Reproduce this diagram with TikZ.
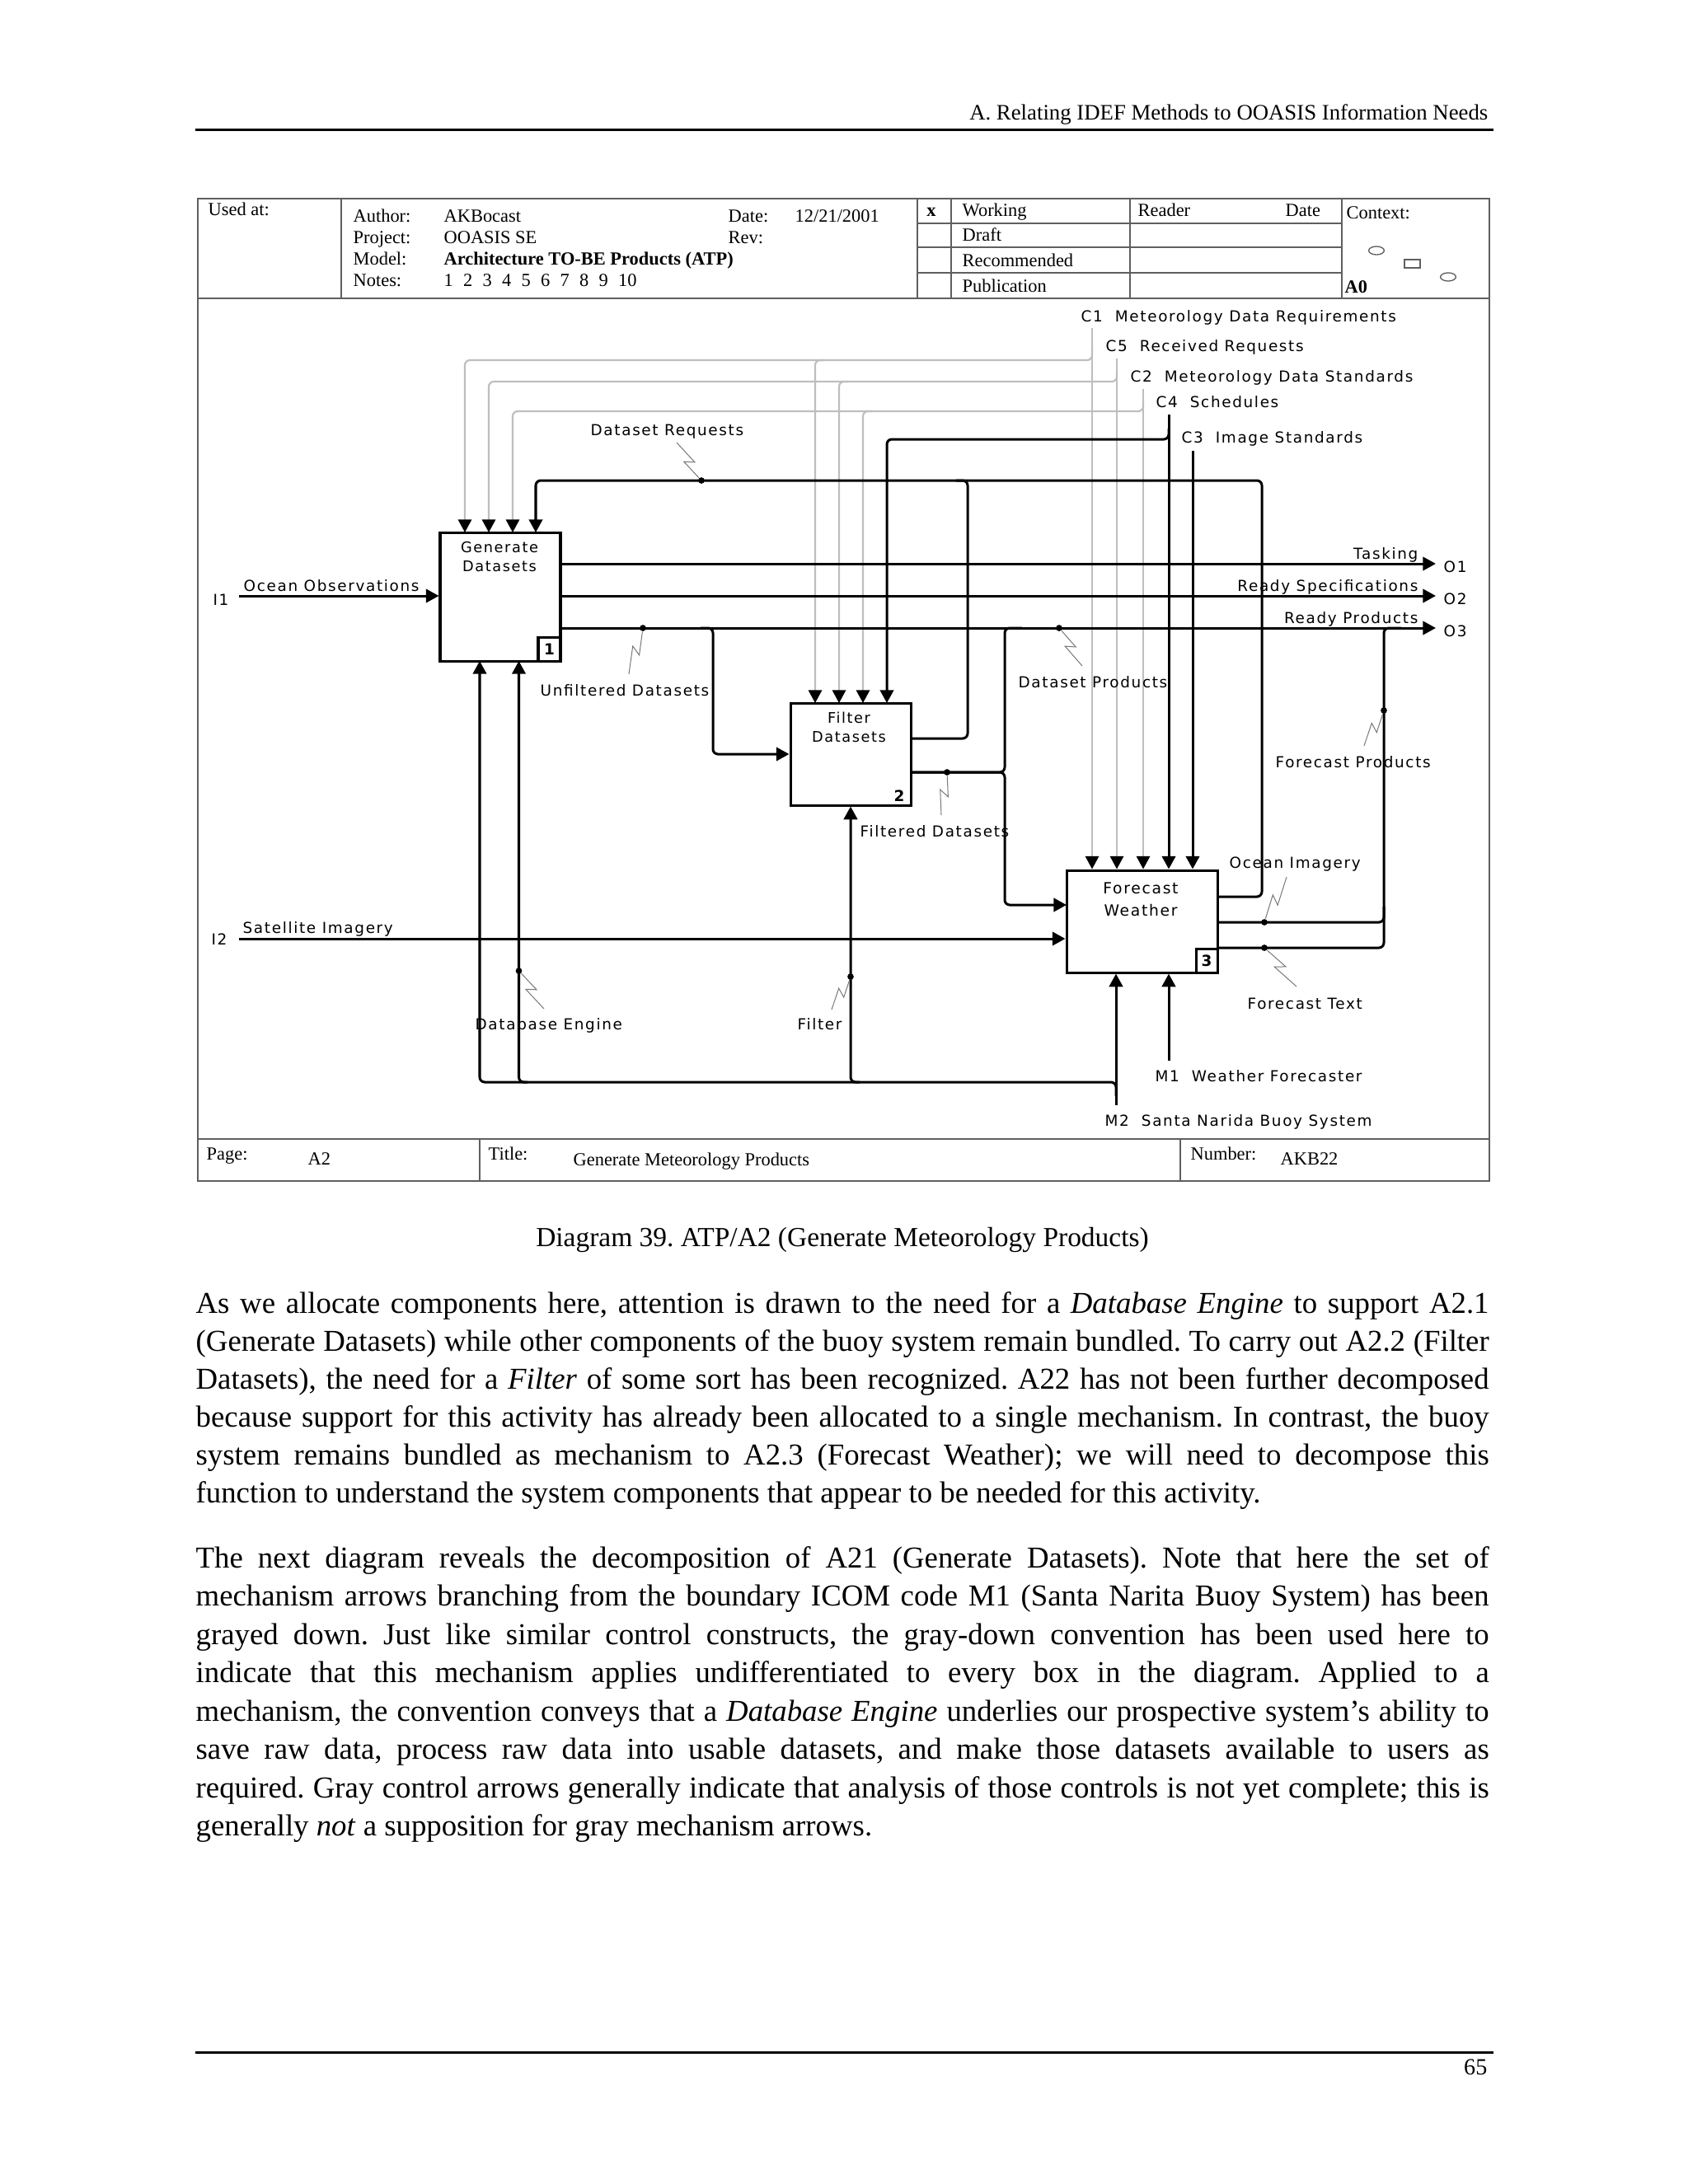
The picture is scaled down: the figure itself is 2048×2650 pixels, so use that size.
\documentclass[tikz,border=0pt]{standalone}
\usepackage{fontspec}
\setmainfont{Liberation Serif}
\newfontfamily\lblfont[LetterSpace=9]{DejaVu Sans}
\usetikzlibrary{arrows.meta,calc}
\definecolor{ctlgray}{RGB}{190,190,190}
\definecolor{frmgray}{RGB}{95,95,95}
\definecolor{sqgray}{RGB}{120,120,120}
\newcommand\pxu{0.29883pt}
\newcommand\squig[2]{\draw[sq] (#1) -- ($(#1)!0.58!(#2)!1.6pt!90:(#2)$) -- ($(#1)!0.44!(#2)!1.6pt!-90:(#2)$) -- (#2);}
\frenchspacing
\tikzset{
  ln/.style={line width=0.9pt, black},
  gln/.style={line width=0.65pt, color=ctlgray},
  arr/.style={-{Triangle[length=4.7pt,width=4.9pt,color=black]}},
  rc/.style={rounded corners=1.8pt},
  box/.style={draw, line width=0.9pt, rectangle, inner sep=0},
  lbl/.style={font=\lblfont\fontsize{5.5}{6.6}\selectfont, inner sep=0},
  blbl/.style={font=\lblfont\fontsize{5.3}{6.4}\selectfont, inner sep=0, anchor=base},
  hd/.style={font=\fontsize{6.7}{8}\selectfont, inner sep=0, anchor=base west},
  body/.style={font=\fontsize{11}{13.75}\selectfont, inner sep=0, anchor=base west},
  sq/.style={line width=0.3pt, color=sqgray},
  dot/.style={circle, fill=black, inner sep=0, minimum size=2.3pt},
  frm/.style={line width=0.6pt, color=frmgray},
  numbox/.style={draw, line width=0.9pt, inner sep=0, anchor=south east, font=\lblfont\bfseries\fontsize{5.5}{6.6}\selectfont},
}
\begin{document}
\begin{tikzpicture}[x=0.29883pt, y=-0.29883pt]
\fill[white] (0,0) rectangle (2048,2650);
\useasboundingbox (0,0) rectangle (2048,2650);

% ---------- page header / footer ----------
\node[anchor=base east, inner sep=0, font=\fontsize{8}{9.6}\selectfont] (hdr) at (1806,145) {A. Relating IDEF Methods to OOASIS Information Needs};
\coordinate (hrL) at (237,157); \coordinate (hrR) at (1812,157);
\draw[line width=0.9pt] (hrL) -- (hrR);
\coordinate (frL) at (237,2490); \coordinate (frR) at (1812,2490);
\draw[line width=0.9pt] (frL) -- (frR);
\node[anchor=base east, inner sep=0, font=\fontsize{8.4}{10}\selectfont] (pgno) at (1805,2517) {65};

% ---------- diagram frame ----------
\draw[frm] (240,241) rectangle (1807,1433);
\draw[frm] (240,362) -- (1807,362);
\draw[frm] (240,1382) -- (1807,1382);
\draw[frm] (414,241) -- (414,362);
\draw[frm] (1113,241) -- (1113,362);
\draw[frm] (1154,241) -- (1154,362);
\draw[frm] (1371,241) -- (1371,362);
\draw[frm] (1628,241) -- (1628,362);
\draw[frm] (1113,271) -- (1628,271);
\draw[frm] (1113,300) -- (1628,300);
\draw[frm] (1113,331) -- (1628,331);
\draw[frm] (582,1382) -- (582,1433);
\draw[frm] (1432,1382) -- (1432,1433);

% header texts
\node[hd] (usedat) at (252,261) {Used at:};
\node[hd] (author) at (428,269) {Author:};
\node[hd] (authorv) at (538,269) {AKBocast};
\node[hd] (date) at (883,269) {Date:};
\node[hd] (datev) at (964,269) {12/21/2001};
\node[hd] (project) at (428,295) {Project:};
\node[hd] (projectv) at (538,295) {OOASIS SE};
\node[hd] (rev) at (883,295) {Rev:};
\node[hd] (model) at (428,321) {Model:};
\node[hd, font=\fontsize{6.7}{8}\selectfont\bfseries] (modelv) at (538,321) {Architecture TO-BE Products (ATP)};
\node[hd] (notes) at (428,347) {Notes:};
\node[hd] (notesv) at (538,347) {\makebox[69.9pt][s]{1 2 3 4 5 6 7 8 9 10}};
\node[hd, anchor=base, font=\fontsize{6.7}{8}\selectfont\bfseries] (xmark) at (1130,262) {x};
\node[hd] (working) at (1167,262) {Working};
\node[hd] (reader) at (1380,262) {Reader};
\node[hd] (rdate) at (1559,262) {Date};
\node[hd] (context) at (1633,265) {Context:};
\node[hd] (draft) at (1167,292) {Draft};
\node[hd] (recom) at (1167,323) {Recommended};
\node[hd] (publ) at (1167,354) {Publication};
\node[hd, font=\fontsize{6.7}{8}\selectfont\bfseries] (azero) at (1631,355) {A0};
\draw[line width=0.4pt, color=frmgray] (1670,304) ellipse [x radius=2.8pt, y radius=1.5pt];
\draw[line width=0.4pt, color=frmgray] (1704,315) rectangle (1723,325);
\draw[line width=0.4pt, color=frmgray] (1757,336) ellipse [x radius=2.8pt, y radius=1.5pt];

% footer texts
\node[hd] (page) at (250,1407) {Page:};
\node[hd] (pagev) at (373,1413) {A2};
\node[hd] (title) at (592,1407) {Title:};
\node[hd] (titlev) at (695,1414) {Generate Meteorology Products};
\node[hd] (number) at (1444,1407) {Number:};
\node[hd] (numberv) at (1553,1413) {AKB22};

% ---------- boxes ----------
\node[box, minimum width=146*\pxu, minimum height=156*\pxu] (b1) at (607,724) {};
\node[box, minimum width=146*\pxu, minimum height=124*\pxu] (b2) at (1032,915) {};
\node[box, minimum width=183*\pxu, minimum height=124*\pxu] (b3) at (1385.5,1118) {};
\node[blbl] (b1ta) at (606,670) {Generate};
\node[blbl] (b1tb) at (606,693) {Datasets};
\node[blbl] (b2ta) at (1030,877) {Filter};
\node[blbl] (b2tb) at (1030,900) {Datasets};
\node[blbl, font=\lblfont\fontsize{5.6}{6.6}\selectfont] (b3ta) at (1384,1084) {Forecast};
\node[blbl, font=\lblfont\fontsize{5.6}{6.6}\selectfont] (b3tb) at (1384,1111) {Weather};
\node[numbox, minimum width=27*\pxu, minimum height=29*\pxu] (b1n) at (b1.south east) {1};
\node[numbox, minimum width=26*\pxu, minimum height=29*\pxu] (b3n) at (b3.south east) {3};
\node[lbl, anchor=base, font=\lblfont\bfseries\fontsize{5.5}{6.6}\selectfont] (b2n) at (1091,972) {2};

% ---------- controls (gray first) ----------
\coordinate (C1) at (1325,398);
\coordinate (C5) at (1355,435);
\coordinate (C2) at (1387,472);
\coordinate (C4) at (1418,503);
\coordinate (C3) at (1447,547);
\draw[gln,arr] (C1) -- (C1 |- b3.north);
\draw[gln,rc,arr] (1325,420) -- (1325,437) -- (564,437) -- (564,646);
\draw[gln,rc,arr] (1000,437) -- (989,437) -- (989,853);
\draw[gln,arr] (C5) -- (C5 |- b3.north);
\draw[gln,rc,arr] (1355,450) -- (1355,463) -- (593,463) -- (593,646);
\draw[gln,rc,arr] (1029,463) -- (1018,463) -- (1018,853);
\draw[gln,arr] (C2) -- (C2 |- b3.north);
\draw[gln,rc,arr] (1387,485) -- (1387,499) -- (622,499) -- (622,646);
\draw[gln,rc,arr] (1058,499) -- (1047,499) -- (1047,853);
\draw[ln,arr] (C4) -- (C4 |- b3.north);
\draw[ln,rc,arr] (1418,520) -- (1418,533) -- (1076,533) -- (1076,853);
\draw[ln,arr] (C3) -- (C3 |- b3.north);

% ---------- inputs ----------
\coordinate (I1) at (290,723);
\coordinate (I2) at (290,1139);
\draw[ln,arr] (I1) -- (I1 -| b1.west);
\draw[ln,arr] (I2) -- (I2 -| b3.west);

% ---------- outputs of box 1 ----------
\coordinate (O1) at (1742,684);
\coordinate (O2) at (1742,723);
\coordinate (O3) at (1742,762);
\draw[ln,arr] (O1 -| b1.east) -- (O1);
\draw[ln,arr] (O2 -| b1.east) -- (O2);
\draw[ln,arr] (O3 -| b1.east) -- (O3);
% unfiltered datasets -> box 2
\draw[ln,rc,arr] (850,762) -- (865,762) -- (865,915) -- (b2.west);
% filtered datasets
\draw[ln,rc] (1105,937) -- (1219,937) -- (1219,762) -- (1240,762);
\draw[ln,rc,arr] (1105,937) -- (1219,937) -- (1219,1098) -- (1294,1098);
% dataset requests
\draw[ln,rc,arr] (1105,896) -- (1174,896) -- (1174,583) -- (650,583) -- (650,646);
\draw[ln,rc] (1477,1088) -- (1531,1088) -- (1531,583) -- (1160,583);
% forecast products
\draw[ln,rc] (1477,1150) -- (1679,1150) -- (1679,762) -- (1700,762);
\draw[ln,rc] (1477,1119) -- (1679,1119) -- (1679,1100);

% ---------- mechanisms ----------
\coordinate (M2) at (1354,1341);
\coordinate (M1) at (1418,1287);
\draw[ln,arr] (M2) -- (M2 |- b3.south);
\draw[ln,rc,arr] (1354,1330) -- (1354,1313) -- (582,1313) -- (582,802);
\draw[ln,rc,arr] (640,1313) -- (629.5,1313) -- (629.5,802);
\draw[ln,rc,arr] (1043,1313) -- (1032,1313) -- (b2.south);
\draw[ln,arr] (M1) -- (M1 |- b3.south);

% ---------- dots ----------
\node[dot] (dDR) at (851,583) {};
\node[dot] (dUF) at (780,762) {};
\node[dot] (dDP) at (1285,762) {};
\node[dot] (dFD) at (1149,937) {};
\node[dot] (dFP) at (1679,862) {};
\node[dot] (dOI) at (1534,1119) {};
\node[dot] (dFT) at (1534,1150) {};
\node[dot] (dDE) at (629.5,1178) {};
\node[dot] (dFi) at (1032,1185) {};

% squiggle start points
\coordinate (sDR) at (821,537);
\coordinate (sUF) at (763,818);
\coordinate (sDP) at (1313,808);
\coordinate (sFD) at (1142,989);
\coordinate (sFP) at (1655,905);
\coordinate (sOI) at (1561,1064);
\coordinate (sFT) at (1573,1197);
\coordinate (sDE) at (660,1224);
\coordinate (sFi) at (1009,1225);
\squig{sDR}{dDR}
\squig{sUF}{dUF}
\squig{sDP}{dDP}
\squig{sFD}{dFD}
\squig{sFP}{dFP}
\squig{sOI}{dOI}
\squig{sFT}{dFT}
\squig{sDE}{dDE}
\squig{sFi}{dFi}

% ---------- labels ----------
\node[lbl, anchor=base west] (lC1) at (1311,390) {C1~~Meteorology Data Requirements};
\node[lbl, anchor=base west] (lC5) at (1341,426) {C5~~Received Requests};
\node[lbl, anchor=base west] (lC2) at (1371,463) {C2~~Meteorology Data Standards};
\node[lbl, anchor=base west] (lC4) at (1402,494) {C4~~Schedules};
\node[lbl, anchor=base west] (lC3) at (1433,537) {C3~~Image Standards};
\node[lbl, anchor=base west] (lDR) at (716,528) {Dataset Requests};
\node[lbl, anchor=base west] (lI1) at (258,734) {I1};
\node[lbl, anchor=base west] (lOO) at (295,717) {Ocean Observations};
\node[lbl, anchor=base west] (lI2) at (256,1146) {I2};
\node[lbl, anchor=base west] (lSI) at (294,1132) {Satellite Imagery};
\node[lbl, anchor=base east] (lTa) at (1721,678) {Tasking};
\node[lbl, anchor=base east] (lRS) at (1721,717) {Ready Specifications};
\node[lbl, anchor=base east] (lRP) at (1721,756) {Ready Products};
\node[lbl, anchor=base west] (lO1) at (1751,694) {O1};
\node[lbl, anchor=base west] (lO2) at (1751,733) {O2};
\node[lbl, anchor=base west] (lO3) at (1751,772) {O3};
\node[lbl, anchor=base west] (lUF) at (655,844) {Unfiltered Datasets};
\node[lbl, anchor=base west] (lDP) at (1235,834) {Dataset Products};
\node[lbl, anchor=base west] (lFD) at (1043,1015) {Filtered Datasets};
\node[lbl, anchor=base west] (lFP) at (1547,931) {Forecast Products};
\node[lbl, anchor=base west] (lOI) at (1491,1053) {Ocean Imagery};
\node[lbl, anchor=base west] (lFT) at (1513,1224) {Forecast Text};
\node[lbl, anchor=base west] (lDE) at (576,1249) {Database Engine};
\node[lbl, anchor=base west] (lFi) at (967,1249) {Filter};
\node[lbl, anchor=base west] (lM1) at (1401,1312) {M1~~Weather Forecaster};
\node[lbl, anchor=base west] (lM2) at (1340,1366) {M2~~Santa Narida Buoy System};

% ---------- caption and body ----------
\node[anchor=base, inner sep=0, font=\fontsize{10}{12}\selectfont] (cap) at (1022,1512) {Diagram 39. ATP/A2 (Generate Meteorology Products)};

\node[body] (p1a) at (237,1593) {\makebox[468.86pt][s]{As we allocate components here, attention is drawn to the need for a \textit{Database Engine} to support A2.1}};
\node[body] (p1b) at (237,1639) {\makebox[468.86pt][s]{(Generate Datasets) while other components of the buoy system remain bundled. To carry out A2.2 (Filter}};
\node[body] (p1c) at (237,1685) {\makebox[468.86pt][s]{Datasets), the need for a \textit{Filter} of some sort has been recognized. A22 has not been further decomposed}};
\node[body] (p1d) at (237,1731) {\makebox[468.86pt][s]{because support for this activity has already been allocated to a single mechanism. In contrast, the buoy}};
\node[body] (p1e) at (237,1777) {\makebox[468.86pt][s]{system remains bundled as mechanism to A2.3 (Forecast Weather); we will need to decompose this}};
\node[body] (p1f) at (237,1823) {function to understand the system components that appear to be needed for this activity.};

\node[body] (p2a) at (237,1902) {\makebox[468.86pt][s]{The next diagram reveals the decomposition of A21 (Generate Datasets). Note that here the set of}};
\node[body] (p2b) at (237,1948) {\makebox[468.86pt][s]{mechanism arrows branching from the boundary ICOM code M1 (Santa Narita Buoy System) has been}};
\node[body] (p2c) at (237,1995) {\makebox[468.86pt][s]{grayed down. Just like similar control constructs, the gray-down convention has been used here to}};
\node[body] (p2d) at (237,2041) {\makebox[468.86pt][s]{indicate that this mechanism applies undifferentiated to every box in the diagram. Applied to a}};
\node[body] (p2e) at (237,2088) {\makebox[468.86pt][s]{mechanism, the convention conveys that a \textit{Database Engine} underlies our prospective system’s ability to}};
\node[body] (p2f) at (237,2134) {\makebox[468.86pt][s]{save raw data, process raw data into usable datasets, and make those datasets available to users as}};
\node[body] (p2g) at (237,2181) {\makebox[468.86pt][s]{required. Gray control arrows generally indicate that analysis of those controls is not yet complete; this is}};
\node[body] (p2h) at (237,2227) {generally \textit{not} a supposition for gray mechanism arrows.};
\end{tikzpicture}
\end{document}
